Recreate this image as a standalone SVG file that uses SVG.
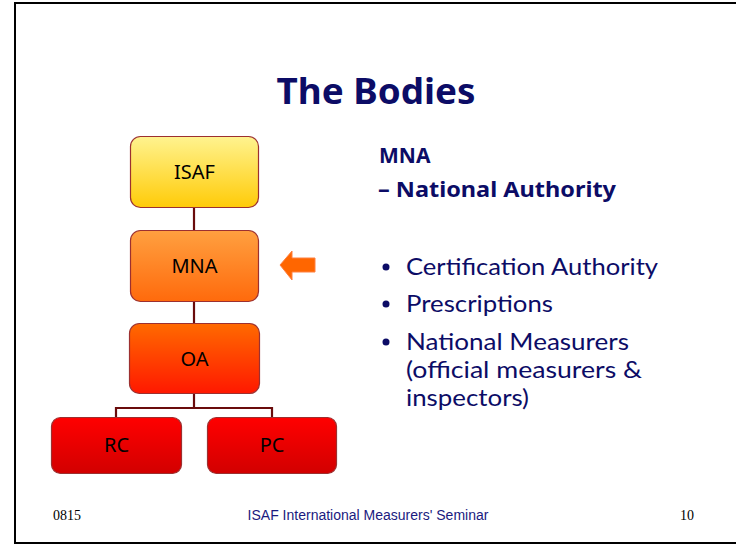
<svg xmlns="http://www.w3.org/2000/svg" width="736" height="545" viewBox="0 0 736 545">
  <defs>
    <linearGradient id="gYellow" x1="0" y1="0" x2="0" y2="1">
      <stop offset="0" stop-color="#fff38f"/>
      <stop offset="1" stop-color="#ffcb08"/>
    </linearGradient>
    <linearGradient id="gOrange" x1="0" y1="0" x2="0" y2="1">
      <stop offset="0" stop-color="#ffa040"/>
      <stop offset="1" stop-color="#ff6a0c"/>
    </linearGradient>
    <linearGradient id="gRedOrange" x1="0" y1="0" x2="0" y2="1">
      <stop offset="0" stop-color="#ff6a00"/>
      <stop offset="1" stop-color="#ff1800"/>
    </linearGradient>
    <linearGradient id="gRed" x1="0" y1="0" x2="0" y2="1">
      <stop offset="0" stop-color="#ff0000"/>
      <stop offset="1" stop-color="#d20000"/>
    </linearGradient>
    <style>
      .box { stroke: #9c3030; stroke-width: 1.2; }
      .lbl { font-family: "Noto Sans", "Open Sans", sans-serif; font-size: 20px; fill: #000; text-anchor: middle; }
      .navy { fill: #0c0c66; font-family: "Noto Sans", "Open Sans", sans-serif; }
      .body { fill: #0c0c66; font-family: Lato, "Noto Sans", sans-serif; font-size: 24px; }
      .conn { stroke: #6a0c0c; stroke-width: 2.2; fill: none; }
      .dot { fill: #0c0c66; }
    </style>
  </defs>

  <!-- slide background and frame -->
  <rect x="0" y="0" width="736" height="545" fill="#ffffff"/>
  <rect x="15" y="3" width="740" height="540" fill="none" stroke="#000" stroke-width="2"/>

  <!-- title -->
  <text x="376" y="104" class="navy" font-size="35" font-weight="bold" text-anchor="middle" textLength="199" lengthAdjust="spacingAndGlyphs">The Bodies</text>

  <!-- connectors -->
  <g id="connectors">
    <line class="conn" x1="194" y1="207" x2="194" y2="230"/>
    <line class="conn" x1="194" y1="301" x2="194" y2="323"/>
    <polyline class="conn" points="194,394 194,408"/>
    <polyline class="conn" points="116,417 116,408 272,408 272,417"/>
  </g>

  <!-- nodes -->
  <g id="node-isaf">
    <rect class="box" x="130.5" y="136.5" width="128" height="71" rx="10" fill="url(#gYellow)"/>
    <text class="lbl" x="194.5" y="179">ISAF</text>
  </g>
  <g id="node-mna">
    <rect class="box" x="130.5" y="230.5" width="128" height="71" rx="10" fill="url(#gOrange)"/>
    <text class="lbl" x="194.5" y="273">MNA</text>
  </g>
  <g id="node-oa">
    <rect class="box" x="129.5" y="323.5" width="130" height="70" rx="10" fill="url(#gRedOrange)"/>
    <text class="lbl" x="194.5" y="366">OA</text>
  </g>
  <g id="node-rc">
    <rect class="box" x="51.5" y="417.5" width="130" height="56" rx="9" fill="url(#gRed)"/>
    <text class="lbl" x="116.5" y="452">RC</text>
  </g>
  <g id="node-pc">
    <rect class="box" x="207.5" y="417.5" width="129" height="56" rx="9" fill="url(#gRed)"/>
    <text class="lbl" x="272" y="452">PC</text>
  </g>

  <!-- pointer arrow -->
  <g id="pointer">
    <polygon points="280,265 292,251 292,258 315,258 315,272 292,272 292,280" fill="#ff6600" stroke="#ff8040" stroke-width="1"/>
  </g>

  <!-- right-hand text -->
  <g id="description">
    <text x="379" y="163" class="navy" font-size="21" font-weight="bold">MNA</text>
    <text x="378" y="197" class="navy" font-size="21" font-weight="bold" textLength="238" lengthAdjust="spacingAndGlyphs">– National Authority</text>
    <circle class="dot" cx="386" cy="267" r="3.5"/>
    <text x="406" y="275" class="body" textLength="252" lengthAdjust="spacingAndGlyphs">Certification Authority</text>
    <circle class="dot" cx="386" cy="304" r="3.5"/>
    <text x="406" y="312" class="body" textLength="147" lengthAdjust="spacingAndGlyphs">Prescriptions</text>
    <circle class="dot" cx="386" cy="342" r="3.5"/>
    <text x="406" y="350" class="body" textLength="223" lengthAdjust="spacingAndGlyphs">National Measurers</text>
    <text x="406" y="378" class="body" textLength="236" lengthAdjust="spacingAndGlyphs">(official measurers &amp;</text>
    <text x="406" y="406" class="body" textLength="123" lengthAdjust="spacingAndGlyphs">inspectors)</text>
  </g>

  <!-- footer -->
  <g id="footer">
    <text x="53" y="520" font-family="'Liberation Serif', serif" font-size="14" fill="#000">0815</text>
    <text x="368" y="520" font-family="'Liberation Sans', sans-serif" font-size="14" fill="#1a1a80" text-anchor="middle">ISAF International Measurers' Seminar</text>
    <text x="680" y="520" font-family="'Liberation Serif', serif" font-size="14" fill="#000">10</text>
  </g>
</svg>
